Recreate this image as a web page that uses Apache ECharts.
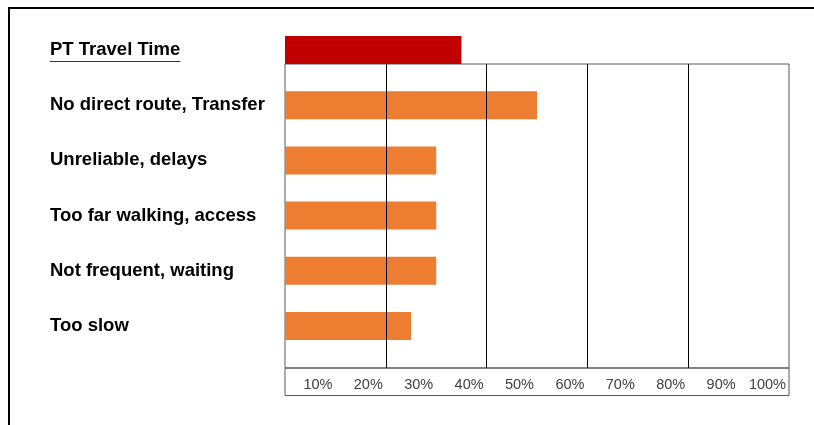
<!DOCTYPE html>
<html>
<head>
<meta charset="utf-8">
<script src="https://cdn.jsdelivr.net/npm/echarts@6/dist/echarts.min.js"></script>
<style>
  html, body { margin: 0; padding: 0; background: #fff; }
  #chart { width: 814px; height: 425px; }
</style>
</head>
<body>
<div id="chart"></div>
<script>
// Reasons given for not using public transport (share of respondents, %)
const categories = [
  'PT Travel Time',
  'No direct route, Transfer',
  'Unreliable, delays',
  'Too far walking, access',
  'Not frequent, waiting',
  'Too slow'
];
const shares = [35, 50, 30, 30, 30, 25];
const tickLabels = ['10%', '20%', '30%', '40%', '50%', '60%', '70%', '80%', '90%', '100%'];

const LABEL_FONT = '"Liberation Sans", Arial, sans-serif';
const labelSize = 18.5;

// Width of the group heading, used for its underline
function textWidth(text, font) {
  const ctx = document.createElement('canvas').getContext('2d');
  ctx.font = font;
  return ctx.measureText(text).width;
}
const headWidth = textWidth(categories[0], 'bold ' + labelSize + 'px ' + LABEL_FONT);

const chart = echarts.init(document.getElementById('chart'));
chart.setOption({
  backgroundColor: '#fff',
  animation: false,
  grid: [
    // bars
    { left: 285, top: 22.4, width: 504, height: 331.2 },
    // framed plot box with the vertical grid lines
    { left: 285, top: 64, width: 504, height: 304, show: true,
      borderColor: '#595959', borderWidth: 1, backgroundColor: 'transparent' },
    // framed strip holding the percentage labels
    { left: 285, top: 368, width: 504, height: 27.5, show: true,
      borderColor: '#595959', borderWidth: 1, backgroundColor: 'transparent' }
  ],
  xAxis: [
    { gridIndex: 0, type: 'value', min: 0, max: 100, show: false },
    { gridIndex: 1, type: 'value', min: 0, max: 100, interval: 20, z: 5,
      axisLine: { show: false }, axisTick: { show: false }, axisLabel: { show: false },
      splitLine: { show: true, showMinLine: false, showMaxLine: false,
        lineStyle: { color: '#000', width: 1 } } },
    { gridIndex: 2, type: 'value', min: 0, max: 100, interval: 10, position: 'top',
      axisLine: { show: false }, axisTick: { show: false }, splitLine: { show: false },
      axisLabel: {
        inside: true, margin: 9, align: 'right', padding: [0, 3, 0, 0],
        showMinLabel: false,
        fontFamily: LABEL_FONT, fontSize: 14.5, color: '#404040',
        formatter: v => v === 0 ? '' : tickLabels[Math.round(v / 10) - 1]
      } }
  ],
  yAxis: [
    { gridIndex: 0, type: 'category', data: categories, inverse: true,
      axisLine: { show: false }, axisTick: { show: false }, splitLine: { show: false },
      axisLabel: { margin: 235, align: 'left', fontFamily: LABEL_FONT,
        fontWeight: 'bold', fontSize: labelSize, color: '#000' } },
    { gridIndex: 1, type: 'value', show: false },
    { gridIndex: 2, type: 'value', show: false }
  ],
  series: [{
    type: 'bar',
    xAxisIndex: 0,
    yAxisIndex: 0,
    barWidth: 28,
    silent: true,
    data: shares.map((v, i) => ({
      value: v,
      itemStyle: { color: i === 0 ? '#C00000' : '#ED7D31' }
    }))
  }],
  graphic: [
    // outer frame (top and left edges)
    { type: 'line', shape: { x1: 8, y1: 8, x2: 814, y2: 8 },
      style: { stroke: '#000', lineWidth: 2 } },
    { type: 'line', shape: { x1: 9, y1: 8, x2: 9, y2: 425 },
      style: { stroke: '#000', lineWidth: 2 } },
    // underline of the group heading
    { type: 'line', shape: { x1: 50, y1: 61.5, x2: 50 + headWidth, y2: 61.5 },
      style: { stroke: '#333', lineWidth: 1 } }
  ]
});
</script>
</body>
</html>
